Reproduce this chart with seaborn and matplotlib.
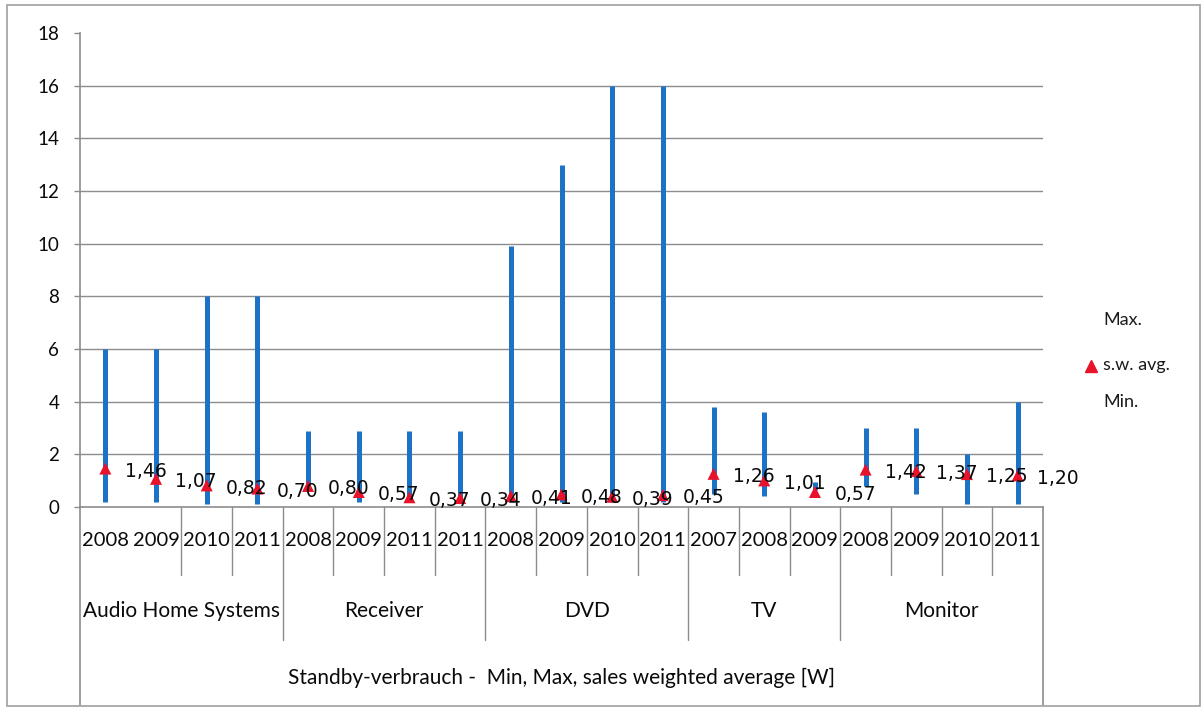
import matplotlib
matplotlib.use("Agg")
import matplotlib.pyplot as plt
from matplotlib.lines import Line2D
from matplotlib.patches import Rectangle
import seaborn as sns
import pandas as pd

# Standby consumption per product group and year
groups = ["Audio Home Systems"] * 4 + ["Receiver"] * 4 + ["DVD"] * 4 + ["TV"] * 3 + ["Monitor"] * 4
years = ["2008", "2009", "2010", "2011",
         "2008", "2009", "2011", "2011",
         "2008", "2009", "2010", "2011",
         "2007", "2008", "2009",
         "2008", "2009", "2010", "2011"]
max_vals = [6.0, 6.0, 8.0, 8.0,
            2.9, 2.9, 2.9, 2.9,
            9.9, 13.0, 16.0, 16.0,
            3.8, 3.6, 0.95,
            3.0, 3.0, 2.0, 4.0]
min_vals = [0.2, 0.2, 0.1, 0.1,
            0.6, 0.2, 0.2, 0.2,
            0.2, 0.2, 0.2, 0.2,
            0.5, 0.4, 0.65,
            0.8, 0.5, 0.1, 0.1]
avg_vals = [1.46, 1.07, 0.82, 0.70,
            0.80, 0.57, 0.37, 0.34,
            0.41, 0.48, 0.39, 0.45,
            1.26, 1.01, 0.57,
            1.42, 1.37, 1.25, 1.20]
y_ticks = [0, 2, 4, 6, 8, 10, 12, 14, 16, 18]
axis_title = "Standby-verbrauch -  Min, Max, sales weighted average [W]"
legend_labels = ["Max.", "s.w. avg.", "Min."]

df = pd.DataFrame({"group": groups, "year": years, "max": max_vals,
                   "min": min_vals, "avg": avg_vals})
df["pos"] = range(len(df))

sns.set_theme(style="white")
plt.rcParams["font.family"] = ["DejaVu Sans"]

W, H = 1204, 711
fig = plt.figure(figsize=(W / 100, H / 100), dpi=100)
ax = fig.add_axes([80 / W, (H - 507) / H, (1043 - 80) / W, (507 - 33) / H])

BLUE = "#1C72C4"
RED = "#E8132A"
GRID = "#8C8C8C"
INK = "#0A0A0A"

# high-low lines
ax.vlines(df["pos"], df["min"], df["max"], color=BLUE, lw=3.6, zorder=2)
# sales weighted averages
sns.scatterplot(data=df, x="pos", y="avg", marker="^", color=RED, s=75,
                edgecolor="none", zorder=3, ax=ax, legend=False)

for p, v in zip(df["pos"], df["avg"]):
    ax.annotate(f"{v:.2f}".replace(".", ","), (p, v), xytext=(14, -2),
                textcoords="offset points", ha="left", va="center",
                fontsize=13.5, color=INK, zorder=4)

ax.set_xlim(-0.5, len(df) - 0.5)
ax.set_ylim(0, 18)
ax.set_yticks(y_ticks)
ax.set_yticklabels([str(t) for t in y_ticks], fontsize=13.5, family="Lato",
                   color=INK)
ax.set_xticks([])
ax.set_xlabel("")
ax.set_ylabel("")
ax.tick_params(axis="y", which="major", left=True, length=4, width=1,
               color=GRID, pad=11)
for y in y_ticks[1:-1]:
    ax.axhline(y, color=GRID, lw=1, zorder=1)

for side in ["top", "right"]:
    ax.spines[side].set_visible(False)
ax.spines["bottom"].set_color(GRID)
ax.spines["left"].set_color(GRID)
ax.spines["bottom"].set_linewidth(1.2)
ax.spines["left"].set_linewidth(1.2)

# multi-level category table below the axis
tr = ax.get_xaxis_transform()
ph = 507 - 33
row1 = -(575 - 507) / ph
row2 = -(640 - 507) / ph
row3 = -(705 - 507) / ph
n = len(df)
ax.plot([-0.5, -0.5], [0, row3], transform=tr, color=GRID, lw=1.2, clip_on=False)
ax.plot([n - 0.5, n - 0.5], [0, row3], transform=tr, color=GRID, lw=1.2, clip_on=False)

group_ends = []
for i in range(1, n):
    if groups[i] != groups[i - 1]:
        group_ends.append(i - 0.5)
for i in range(2, n):
    b = i - 0.5
    bottom = row2 if b in group_ends else row1
    ax.plot([b, b], [0, bottom], transform=tr, color=GRID, lw=1, clip_on=False)

for p, yr in zip(df["pos"], df["year"]):
    ax.text(p, -(541 - 507) / ph, yr, transform=tr, ha="center", va="center",
            fontsize=14.5, family="Lato", color=INK)

start = 0
for i in range(1, n + 1):
    if i == n or groups[i] != groups[start]:
        ax.text((start + i - 1) / 2, -(611 - 507) / ph, groups[start], transform=tr,
                ha="center", va="center", fontsize=15, family="Lato", color=INK)
        start = i

ax.text((n - 1) / 2, -(678 - 507) / ph, axis_title, transform=tr, ha="center",
        va="center", fontsize=15, family="Lato", color=INK)

# legend
for label, ypx in zip(legend_labels, [320, 365, 402]):
    fig.text(1103 / W, 1 - ypx / H, label, ha="left", va="center",
             fontsize=13, family="Lato", color="#1A1A1A")
fig.add_artist(Line2D([1091 / W], [1 - 366 / H], marker="^", color=RED,
                      markersize=8, linestyle="none", transform=fig.transFigure))

# outer frame
fig.add_artist(Rectangle((7 / W, 5 / H), (1200 - 7) / W, (706 - 5) / H,
                         transform=fig.transFigure, fill=False,
                         edgecolor="#A0A0A0", lw=1.2))

fig.savefig("out.png", dpi=100, facecolor="white")
